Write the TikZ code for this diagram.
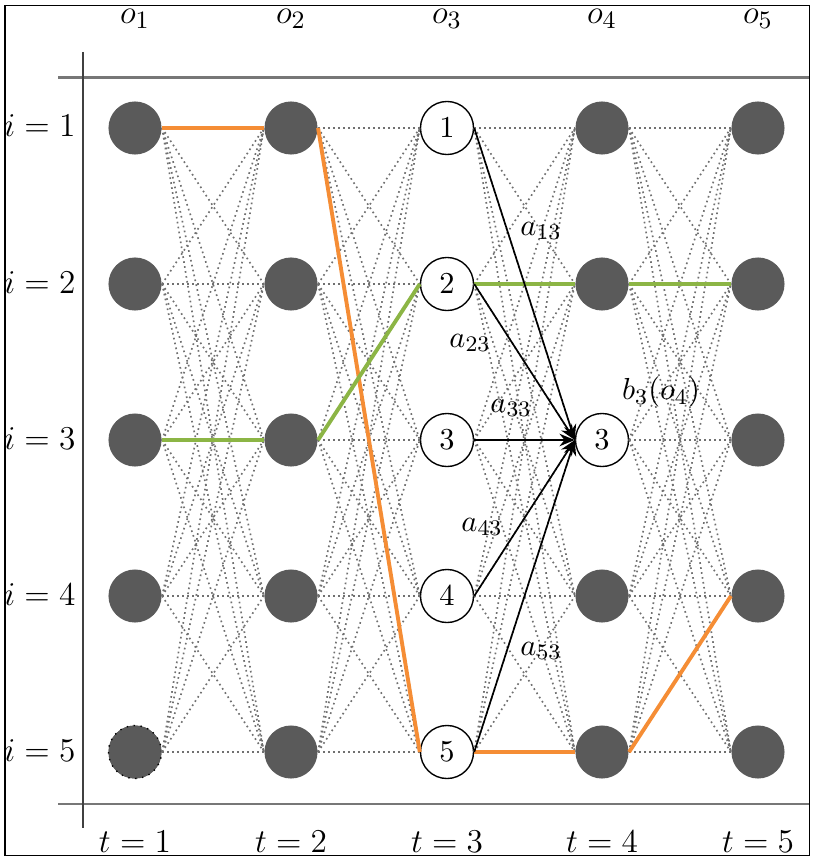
\documentclass[tikz,border=0pt]{standalone}
\usetikzlibrary{arrows.meta}
\definecolor{nodegray}{HTML}{5A5A5A}
\definecolor{pathorange}{HTML}{F58D35}
\definecolor{pathgreen}{HTML}{8CB545}
\definecolor{meshgray}{HTML}{707070}
\definecolor{rulegray}{HTML}{777777}
\begin{document}
\begin{tikzpicture}[x=0.36pt,y=-0.36pt,
  hidden/.style={circle, fill=nodegray, minimum size=19.1pt, inner sep=0pt},
  shown/.style={circle, draw=black, line width=0.5pt, fill=white, minimum size=19.1pt, inner sep=0pt, font=\fontsize{10.5}{12}\selectfont},
  mesh/.style={meshgray, line width=0.6pt, dash pattern=on 0.6pt off 1.2pt},
  orangepath/.style={pathorange, line width=1.4pt},
  greenpath/.style={pathgreen, line width=1.4pt},
  transarrow/.style={-{Stealth[length=5.5pt,width=4.5pt]}, line width=0.6pt, black},
  axislabel/.style={font=\fontsize{13}{15}\selectfont, inner sep=0pt},
  problabel/.style={font=\fontsize{11}{13}\selectfont, inner sep=0pt},
  rule/.style={rulegray, line width=0.8pt}]
\useasboundingbox (0,0) rectangle (817,862);

% hidden states
\foreach \t/\x in {1/135,2/291,4/602,5/758}
  \foreach \i/\y in {1/128,2/284,3/440,4/596,5/752}
    \node[hidden] (n\t\i) at (\x,\y) {};
\node[hidden, draw=black, line width=0.5pt, dotted] (n15) at (135,752) {};
% shown states
\foreach \i/\y in {1/128,2/284,3/440,4/596,5/752}
  \node[shown] (n3\i) at (447,\y) {$\i$};
\node[shown] (n43) at (602,440) {$3$};

% full mesh of transitions
\foreach \t/\u in {1/2,2/3,3/4,4/5}
  \foreach \i in {1,...,5}
    \foreach \j in {1,...,5}
      \draw[mesh] (n\t\i.east) -- (n\u\j.west);

% highlighted paths
\draw[orangepath] (n11.east) -- (n21.west);
\draw[orangepath] (n21.east) -- (n35.west);
\draw[orangepath] (n35.east) -- (n45.west);
\draw[orangepath] (n45.east) -- (n54.west);
\draw[greenpath] (n13.east) -- (n23.west);
\draw[greenpath] (n23.east) -- (n32.west);
\draw[greenpath] (n32.east) -- (n42.west);
\draw[greenpath] (n42.east) -- (n52.west);

% transitions into state 3 at t=4
\foreach \i in {1,...,5}
  \draw[transarrow] (n3\i.east) -- (n43.west);

\node[problabel] (a13) at (541,231) {$a_{13}$};
\node[problabel] (a23) at (470,343) {$a_{23}$};
\node[problabel] (a33) at (511,408) {$a_{33}$};
\node[problabel] (a43) at (482,527) {$a_{43}$};
\node[problabel] (a53) at (541,651) {$a_{53}$};
\node[problabel] (b3) at (661,392) {$b_3(o_4)$};

% axes
\coordinate (topL) at (58,77.5);
\coordinate (topR) at (809,77.5);
\coordinate (botL) at (58,804);
\coordinate (botR) at (809,804);
\coordinate (vTop) at (83,52);
\coordinate (vBot) at (83,828);
\draw[rule] (topL) -- (topR);
\draw[rule] (botL) -- (botR);
\draw[line width=0.6pt, black!75] (vTop) -- (vBot);

% labels
\foreach \k/\x in {1/135,2/291,3/447,4/602,5/758}{
  \node[axislabel, anchor=base] (o\k) at (\x,24) {$o_\k$};
  \node[axislabel, anchor=base] (t\k) at (\x,852) {$t=\k$};
}
\foreach \i/\y in {1/128,2/284,3/440,4/596,5/752}
  \node[axislabel, anchor=base east] (i\i) at (76,\y+9) {$i=\i$};

% frame
\draw[line width=0.7pt, black] (5,5.5) rectangle (809.5,855.5);
\end{tikzpicture}
\end{document}
